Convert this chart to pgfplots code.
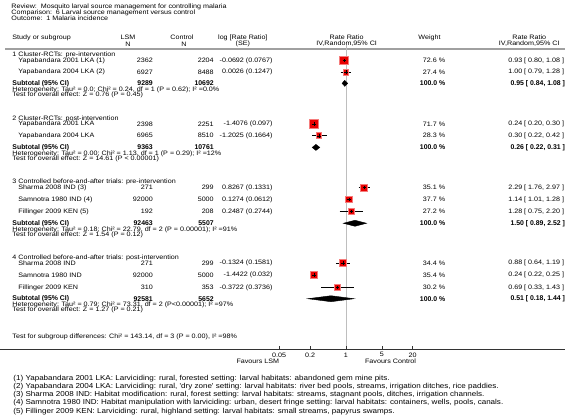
\documentclass[border=0pt]{standalone}
\usepackage{fontspec}
\setmainfont{Liberation Sans}
\newfontfamily\spaced{Liberation Sans}[FakeStretch=1.12]
\usepackage{pgfplots}
\pgfplotsset{compat=1.18}
\definecolor{rfill}{RGB}{232,0,0}
\definecolor{redge}{RGB}{245,125,125}
\definecolor{rule}{RGB}{160,160,160}
\definecolor{vline}{RGB}{190,190,190}
\newcommand{\fn}{\spaced\fontsize{6.4}{6.4}\selectfont}
\newcommand{\ff}{\spaced\fontsize{7.2}{7.2}\selectfont}
\newcommand{\fb}{\fontsize{6.9}{6.9}\selectfont\bfseries}
\pgfplotsset{base/.style={at={(0pt,0pt)}, anchor=south west, scale only axis,
  width=566pt, height=420pt, ymin=0, ymax=420, y dir=reverse, hide axis, clip=false}}
\tikzset{L/.style={anchor=west,inner sep=0pt,font=\fn},
  R/.style={anchor=east,inner sep=0pt,font=\fn},
  C/.style={anchor=center,inner sep=0pt,font=\fn},
  F/.style={anchor=west,inner sep=0pt,font=\ff},
  LB/.style={anchor=west,inner sep=0pt,font=\fb},
  RB/.style={anchor=east,inner sep=0pt,font=\fb}}
\begin{document}
\begin{tikzpicture}
% ---------------- text layer (pixel coordinates) ----------------
\begin{axis}[base, xmin=0, xmax=566]
\path (axis cs:0,0) rectangle (axis cs:566,420);
\addplot[rule, line width=1.6pt] coordinates {(5,49) (566,49)};
% titles
\node[L] at (axis cs:11,6.5) {Review:\ \ Mosquito larval source management for controlling malaria};
\node[L] at (axis cs:11,12.5) {Comparison:\ \ 6 Larval source management versus control};
\node[L] at (axis cs:11,18.5) {Outcome:\ \ 1 Malaria incidence};
% header
\node[L] at (axis cs:12,37.5) {Study or subgroup};
\node[C] at (axis cs:128,37.5) {LSM};
\node[C] at (axis cs:128,44) {N};
\node[C] at (axis cs:182,37.5) {Control};
\node[C] at (axis cs:184,44) {N};
\node[C] at (axis cs:243,37.5) {log [Rate Ratio]};
\node[C] at (axis cs:243,44) {(SE)};
\node[C] at (axis cs:347,37.5) {Rate Ratio};
\node[C] at (axis cs:347,44) {IV,Random,95\% CI};
\node[C] at (axis cs:430,37.5) {Weight};
\node[C] at (axis cs:530,37.5) {Rate Ratio};
\node[C] at (axis cs:530,44) {IV,Random,95\% CI};
% group 1
\node[L] at (axis cs:12,55.3) {1 Cluster-RCTs: pre-intervention};
\node[L] at (axis cs:18,60.7) {Yapabandara 2001 LKA (1)};
\node[R] at (axis cs:153,60.7) {2362};
\node[R] at (axis cs:214,60.7) {2204};
\node[R] at (axis cs:273,60.7) {-0.0692 (0.0767)};
\node[R] at (axis cs:446,60.7) {72.6 \%};
\node[R] at (axis cs:565,60.7) {0.93 [ 0.80, 1.08 ]};
\node[L] at (axis cs:18,72.3) {Yapabandara 2004 LKA (2)};
\node[R] at (axis cs:153,72.3) {6927};
\node[R] at (axis cs:214,72.3) {8488};
\node[R] at (axis cs:273,72.3) {0.0026 (0.1247)};
\node[R] at (axis cs:446,72.3) {27.4 \%};
\node[R] at (axis cs:565,72.3) {1.00 [ 0.79, 1.28 ]};
\node[LB] at (axis cs:12,83.5) {Subtotal (95\% CI)};
\node[RB] at (axis cs:153,83.5) {9289};
\node[RB] at (axis cs:214,83.5) {10692};
\node[RB] at (axis cs:446,83.5) {100.0 \%};
\node[RB] at (axis cs:566,83.5) {0.95 [ 0.84, 1.08 ]};
\node[L] at (axis cs:12,89.6) {Heterogeneity: Tau² = 0.0; Chi² = 0.24, df = 1 (P = 0.62); I² =0.0\%};
\node[L] at (axis cs:12,95.1) {Test for overall effect: Z = 0.76 (P = 0.45)};
% group 2
\node[L] at (axis cs:12,119) {2 Cluster-RCTs: post-intervention};
\node[L] at (axis cs:18,124.3) {Yapabandara 2001 LKA};
\node[R] at (axis cs:153,124.3) {2398};
\node[R] at (axis cs:214,124.3) {2251};
\node[R] at (axis cs:273,124.3) {-1.4076 (0.097)};
\node[R] at (axis cs:446,124.3) {71.7 \%};
\node[R] at (axis cs:565,124.3) {0.24 [ 0.20, 0.30 ]};
\node[L] at (axis cs:18,136) {Yapabandara 2004 LKA};
\node[R] at (axis cs:153,136) {6965};
\node[R] at (axis cs:214,136) {8510};
\node[R] at (axis cs:273,136) {-1.2025 (0.1664)};
\node[R] at (axis cs:446,136) {28.3 \%};
\node[R] at (axis cs:565,136) {0.30 [ 0.22, 0.42 ]};
\node[LB] at (axis cs:12,147.7) {Subtotal (95\% CI)};
\node[RB] at (axis cs:153,147.7) {9363};
\node[RB] at (axis cs:214,147.7) {10761};
\node[RB] at (axis cs:446,147.7) {100.0 \%};
\node[RB] at (axis cs:566,147.7) {0.26 [ 0.22, 0.31 ]};
\node[L] at (axis cs:12,153.8) {Heterogeneity: Tau² = 0.00; Chi² = 1.13, df = 1 (P = 0.29); I² =12\%};
\node[L] at (axis cs:12,159.3) {Test for overall effect: Z = 14.61 (P < 0.00001)};
% group 3
\node[L] at (axis cs:12,182.5) {3 Controlled before-and-after trials: pre-intervention};
\node[L] at (axis cs:18,188) {Sharma 2008 IND (3)};
\node[R] at (axis cs:153,188) {271};
\node[R] at (axis cs:214,188) {299};
\node[R] at (axis cs:273,188) {0.8267 (0.1331)};
\node[R] at (axis cs:446,188) {35.1 \%};
\node[R] at (axis cs:565,188) {2.29 [ 1.76, 2.97 ]};
\node[L] at (axis cs:18,200) {Samnotra 1980 IND (4)};
\node[R] at (axis cs:153,200) {92000};
\node[R] at (axis cs:214,200) {5000};
\node[R] at (axis cs:273,200) {0.1274 (0.0612)};
\node[R] at (axis cs:446,200) {37.7 \%};
\node[R] at (axis cs:565,200) {1.14 [ 1.01, 1.28 ]};
\node[L] at (axis cs:18,212) {Fillinger 2009 KEN (5)};
\node[R] at (axis cs:153,212) {192};
\node[R] at (axis cs:214,212) {208};
\node[R] at (axis cs:273,212) {0.2487 (0.2744)};
\node[R] at (axis cs:446,212) {27.2 \%};
\node[R] at (axis cs:565,212) {1.28 [ 0.75, 2.20 ]};
\node[LB] at (axis cs:12,223.7) {Subtotal (95\% CI)};
\node[RB] at (axis cs:153,223.7) {92463};
\node[RB] at (axis cs:214,223.7) {5507};
\node[RB] at (axis cs:446,223.7) {100.0 \%};
\node[RB] at (axis cs:566,223.7) {1.50 [ 0.89, 2.52 ]};
\node[L] at (axis cs:12,229.8) {Heterogeneity: Tau² = 0.18; Chi² = 22.79, df = 2 (P = 0.00001); I² =91\%};
\node[L] at (axis cs:12,235.3) {Test for overall effect: Z = 1.54 (P = 0.12)};
% group 4
\node[L] at (axis cs:12,258.2) {4 Controlled before-and-after trials: post-intervention};
\node[L] at (axis cs:18,263.7) {Sharma 2008 IND};
\node[R] at (axis cs:153,263.7) {271};
\node[R] at (axis cs:214,263.7) {299};
\node[R] at (axis cs:273,263.7) {-0.1324 (0.1581)};
\node[R] at (axis cs:446,263.7) {34.4 \%};
\node[R] at (axis cs:565,263.7) {0.88 [ 0.64, 1.19 ]};
\node[L] at (axis cs:18,275.7) {Samnotra 1980 IND};
\node[R] at (axis cs:153,275.7) {92000};
\node[R] at (axis cs:214,275.7) {5000};
\node[R] at (axis cs:273,275.7) {-1.4422 (0.032)};
\node[R] at (axis cs:446,275.7) {35.4 \%};
\node[R] at (axis cs:565,275.7) {0.24 [ 0.22, 0.25 ]};
\node[L] at (axis cs:18,288) {Fillinger 2009 KEN};
\node[R] at (axis cs:153,288) {310};
\node[R] at (axis cs:214,288) {353};
\node[R] at (axis cs:273,288) {-0.3722 (0.3736)};
\node[R] at (axis cs:446,288) {30.2 \%};
\node[R] at (axis cs:565,288) {0.69 [ 0.33, 1.43 ]};
\node[LB] at (axis cs:12,299.3) {Subtotal (95\% CI)};
\node[RB] at (axis cs:153,299.3) {92581};
\node[RB] at (axis cs:214,299.3) {5652};
\node[RB] at (axis cs:446,299.3) {100.0 \%};
\node[RB] at (axis cs:566,299.3) {0.51 [ 0.18, 1.44 ]};
\node[L] at (axis cs:12,305.4) {Heterogeneity: Tau² = 0.79; Chi² = 73.31, df = 2 (P<0.00001); I² =97\%};
\node[L] at (axis cs:12,310.9) {Test for overall effect: Z = 1.27 (P = 0.21)};
% overall
\node[L] at (axis cs:12,337) {Test for subgroup differences: Chi² = 143.14, df = 3 (P = 0.00), I² =98\%};
\node[C] at (axis cs:258,361.5) {Favours LSM};
\node[C] at (axis cs:391,361.5) {Favours Control};
% footnotes
\node[F] at (axis cs:13,379) {(1) Yapabandara 2001 LKA: Larviciding: rural, forested setting: larval habitats: abandoned gem mine pits.};
\node[F] at (axis cs:13,387.2) {(2) Yapabandara 2004 LKA: Larviciding: rural, 'dry zone' setting: larval habitats: river bed pools, streams, irrigation ditches, rice paddies.};
\node[F] at (axis cs:13,395.5) {(3) Sharma 2008 IND: Habitat modification: rural, forest setting: larval habitats: streams, stagnant pools, ditches, irrigation channels.};
\node[F] at (axis cs:13,403.8) {(4) Samnotra 1980 IND: Habitat manipulation with larviciding: urban, desert fringe setting: larval habitats: containers, wells, pools, canals.};
\node[F] at (axis cs:13,412) {(5) Fillinger 2009 KEN: Larviciding: rural, highland setting: larval habitats: small streams, papyrus swamps.};
\end{axis}
% ---------------- forest plot layer (log rate ratio) ----------------
\begin{axis}[base, xmode=log, xmin=1.831e-7, xmax=18805]
% line of no effect
\addplot[vline, line width=0.6pt] coordinates {(1,45.5) (1,350)};
% axis line and ticks
\addplot[black!80, line width=0.6pt] coordinates {(1.831e-7,350) (18805,350)};
\foreach \t in {0.05,0.2,1,5,20}{
  \addplot[black!80, line width=0.5pt] coordinates {(\t,347) (\t,350)};
}
\node[C] at (axis cs:0.05,355.5) {0.05};
\node[C] at (axis cs:0.2,355.5) {0.2};
\node[C] at (axis cs:1,355.5) {1};
\node[C] at (axis cs:5,355.5) {5};
\node[C] at (axis cs:20,355.5) {20};
% squares (size ~ weight)
\pgfplotsset{sq/.style={only marks, mark=square*, mark size=#1, mark options={fill=rfill, draw=redge, line width=1pt}}}
\addplot[sq=4.4] coordinates {(0.93,60.7)};
\addplot[sq=2.9] coordinates {(1.00,72.3)};
\addplot[sq=4.4] coordinates {(0.24,124.3)};
\addplot[sq=2.8] coordinates {(0.30,136)};
\addplot[sq=3.6] coordinates {(2.29,188)};
\addplot[sq=3.3] coordinates {(1.14,200)};
\addplot[sq=3.0] coordinates {(1.28,212)};
\addplot[sq=3.3] coordinates {(0.88,263.7)};
\addplot[sq=3.3] coordinates {(0.24,275.7)};
\addplot[sq=3.0] coordinates {(0.69,288)};
% confidence intervals
\pgfplotsset{ci/.style={black, line width=0.5pt}}
\addplot[ci] coordinates {(0.80,60.7) (1.08,60.7)};
\addplot[ci] coordinates {(0.79,72.3) (1.28,72.3)};
\addplot[ci] coordinates {(0.20,124.3) (0.30,124.3)};
\addplot[ci] coordinates {(0.22,136) (0.42,136)};
\addplot[ci] coordinates {(1.76,188) (2.97,188)};
\addplot[ci] coordinates {(1.01,200) (1.28,200)};
\addplot[ci] coordinates {(0.75,212) (2.20,212)};
\addplot[ci] coordinates {(0.64,263.7) (1.19,263.7)};
\addplot[ci] coordinates {(0.22,275.7) (0.25,275.7)};
\addplot[ci] coordinates {(0.33,288) (1.43,288)};
% point estimates
\addplot[only marks, mark=+, mark size=1.8, black, line width=0.45pt] coordinates {
 (0.93,60.7) (1.00,72.3) (0.24,124.3) (0.30,136) (2.29,188) (1.14,200) (1.28,212)
 (0.88,263.7) (0.24,275.7) (0.69,288)};
% subtotal diamonds
\pgfplotsset{dm/.style={fill=black, draw=black, line width=0.4pt}}
\addplot[dm] coordinates {(0.84,83.5) (0.95,80.5) (1.08,83.5) (0.95,86.5)} -- cycle;
\addplot[dm] coordinates {(0.22,147.7) (0.26,144.7) (0.31,147.7) (0.26,150.7)} -- cycle;
\addplot[dm] coordinates {(0.89,223.7) (1.50,220.7) (2.52,223.7) (1.50,226.7)} -- cycle;
\addplot[dm] coordinates {(0.18,299.3) (0.51,296.3) (1.44,299.3) (0.51,302.3)} -- cycle;
\end{axis}
\end{tikzpicture}
\end{document}
